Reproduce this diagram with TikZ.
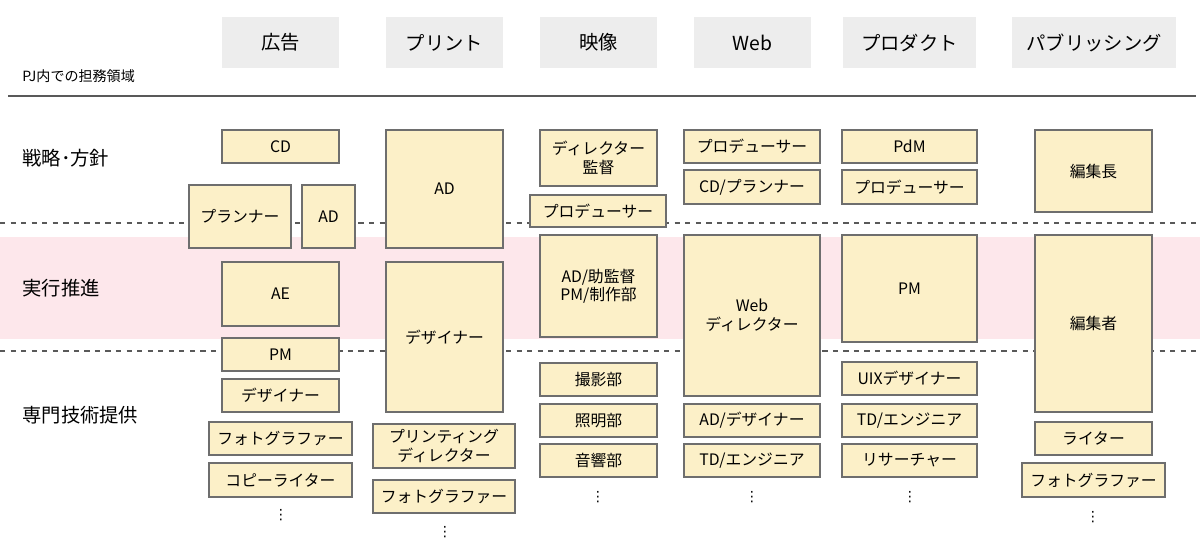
\documentclass[tikz,border=0pt]{standalone}
\usepackage{fontspec}
\setmainfont{Noto Sans CJK JP}
\newfontfamily\symfont{DejaVu Sans}
\definecolor{rolefill}{HTML}{FCF0C8}
\definecolor{roleline}{HTML}{6E6E6E}
\definecolor{bandpink}{HTML}{FDE7EB}
\definecolor{headgray}{HTML}{EDEDED}
% box given by its pixel corners
\newcommand\role[6]{%
  \node[role, minimum width={(#4-#2)*0.02cm}, minimum height={(#5-#3)*0.02cm}]
    (#1) at ({(#2+#4)/2},{(#3+#5)/2}) {#6};}
\newcommand\colhead[4]{%
  \node[colhead, minimum width={(#3-#2)*0.02cm}] (#1) at ({(#2+#3)/2},42.5) {#4};}
\begin{document}
\begin{tikzpicture}[
    x=0.02cm, y=-0.02cm,
    role/.style={
        rectangle,
        draw=roleline,
        fill=rolefill,
        line width=0.6pt,
        inner sep=0pt,
        align=center,
        font=\fontsize{9}{10.5}\selectfont,
    },
    colhead/.style={
        rectangle,
        fill=headgray,
        minimum height=1.02cm,
        inner sep=0pt,
        font=\fontsize{11}{12}\selectfont,
    },
    rowlabel/.style={
        anchor=west,
        inner sep=0pt,
        font=\fontsize{11}{12}\selectfont,
    },
    vdots/.style={
        inner sep=0pt,
        font=\symfont\fontsize{8}{8}\selectfont,
    },
    sep/.style={
        gray!70!black,
        dashed,
        line width=0.6pt,
    },
]
\useasboundingbox (0,0) rectangle (1200,552);

% rows
\fill[bandpink] (0,237) rectangle (1200,339);
\draw[sep] (0,223) -- (1200,223);
\draw[sep] (0,351) -- (1200,351);
\draw[gray!70!black, line width=0.7pt] (8,96) -- (1196,96);

\node[anchor=west, inner sep=0pt, font=\fontsize{8}{9}\selectfont] (scope) at (22,76) {PJ内での担務領域};
\node[rowlabel] (strategy) at (22,158) {戦略･方針};
\node[rowlabel] (execution) at (22,288) {実行推進};
\node[rowlabel] (expert) at (22,415) {専門技術提供};

% column headers
\colhead{ad}{222}{339}{広告}
\colhead{print}{386}{503}{プリント}
\colhead{video}{540}{657}{映像}
\colhead{web}{694}{811}{Web}
\colhead{prod}{843}{976}{プロダクト}
\colhead{pub}{1012}{1176}{パブリッシング}

% 広告
\role{adCD}{222}{130}{339}{163}{CD}
\role{adPlan}{189}{185}{291}{248}{プランナー}
\role{adAD}{302}{185}{355}{248}{AD}
\role{adAE}{222}{262}{339}{326}{AE}
\role{adPM}{222}{338}{339}{371}{PM}
\role{adDes}{222}{379}{339}{412}{デザイナー}
\role{adPhoto}{209}{422}{352}{455}{フォトグラファー}
\role{adCopy}{209}{463}{352}{497}{コピーライター}
\node[vdots] (adMore) at (281,515) {⋮};

% プリント
\role{prAD}{386}{130}{503}{248}{AD}
\role{prDes}{386}{262}{503}{412}{デザイナー}
\role{prDir}{373}{424}{515}{468}{プリンティング\\ディレクター}
\role{prPhoto}{373}{480}{515}{513}{フォトグラファー}
\node[vdots] (prMore) at (445,532) {⋮};

% 映像
\role{viDir}{540}{130}{657}{186}{ディレクター\\監督}
\role{viProd}{530}{195}{666}{227}{プロデューサー}
\role{viAD}{540}{235}{657}{337}{AD/助監督\\PM/制作部}
\role{viCam}{540}{363}{657}{396}{撮影部}
\role{viLight}{540}{404}{657}{437}{照明部}
\role{viSound}{540}{444}{657}{477}{音響部}
\node[vdots] (viMore) at (598,497) {⋮};

% Web
\role{wbProd}{684}{130}{820}{163}{プロデューサー}
\role{wbCD}{684}{170}{820}{204}{CD/プランナー}
\role{wbDir}{684}{235}{820}{396}{Web\\ディレクター}
\role{wbAD}{684}{404}{820}{437}{AD/デザイナー}
\role{wbTD}{684}{444}{820}{477}{TD/エンジニア}
\node[vdots] (wbMore) at (752,497) {⋮};

% プロダクト
\role{pdPdM}{842}{130}{977}{163}{PdM}
\role{pdProd}{842}{170}{977}{204}{プロデューサー}
\role{pdPM}{842}{235}{977}{342}{PM}
\role{pdUIX}{842}{362}{977}{395}{UIXデザイナー}
\role{pdTD}{842}{404}{977}{437}{TD/エンジニア}
\role{pdRes}{842}{444}{977}{477}{リサーチャー}
\node[vdots] (pdMore) at (910,497) {⋮};

% パブリッシング
\role{pbChief}{1035}{130}{1152}{212}{編集長}
\role{pbEd}{1035}{235}{1152}{412}{編集者}
\role{pbWriter}{1035}{422}{1152}{455}{ライター}
\role{pbPhoto}{1022}{463}{1165}{497}{フォトグラファー}
\node[vdots] (pbMore) at (1093,517) {⋮};

\end{tikzpicture}
\end{document}
